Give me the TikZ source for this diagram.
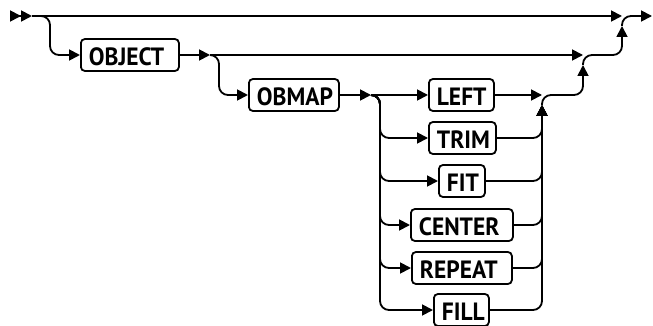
\documentclass[tikz,border=0pt]{standalone}
\usepackage{fontspec}
\setmainfont{PT Sans}[FakeStretch=0.94]
\usetikzlibrary{arrows.meta,positioning}

\begin{document}
\begin{tikzpicture}[x=1pt, y=-1pt, line width=1.8pt,
    kw/.style={draw, rounded corners=4pt, minimum height=32pt, inner xsep=8pt, inner ysep=0pt,
      text height=21pt, text depth=0pt, align=left, anchor=west,
      font=\fontsize{25}{25}\selectfont\bfseries},
    tip/.style={-{Triangle[length=11pt,width=11pt]}},
    dbl/.style={-{Triangle[length=11pt,width=11pt]Triangle[length=11pt,width=11pt]}},
    track/.style={rounded corners=9pt}]
  \useasboundingbox (0,0) rectangle (653,326);
  % keyword boxes
  \node[kw, text width=82pt] (obj) at (80,55) {OBJECT};
  \node[kw, text width=74pt] (obmap) at (248,95) {OBMAP};
  \node[kw, text width=49pt] (kleft) at (428,95) {LEFT};
  \node[kw, text width=51pt] (ktrim) at (428,138) {TRIM};
  \node[kw, text width=30pt] (kfit) at (438,181) {FIT};
  \node[kw, text width=86pt] (kcenter) at (410,225) {CENTER};
  \node[kw, text width=84pt] (krepeat) at (411,268) {REPEAT};
  \node[kw, text width=39pt] (kfill) at (433,310) {FILL};
  % split and join points
  \coordinate (in) at (10,16);
  \coordinate (s1) at (32,16);
  \coordinate (v1) at (50,55);
  \coordinate (s2) at (210,55);
  \coordinate (v2) at (219,95);
  \coordinate (s3) at (371,95);
  \coordinate (v3) at (380,95);
  \coordinate (j3) at (542,95);
  \coordinate (u3) at (542,105);
  \coordinate (r2) at (583,95);
  \coordinate (j2) at (583,55);
  \coordinate (u2) at (583,65);
  \coordinate (r1) at (622,55);
  \coordinate (j1) at (622,16);
  \coordinate (u1) at (622,26);
  \coordinate (out) at (652,16);
  % main line
  \draw[dbl] (in) -- (s1);
  \draw[tip] (s1) -- (j1);
  \draw[tip, track] (s1) -| (v1) -- (obj.west);
  % OBJECT row
  \draw[tip] (obj.east) -- (s2);
  \draw[tip] (s2) -- (j2);
  \draw[tip, track] (s2) -| (v2) -- (obmap.west);
  % OBMAP choices
  \draw[tip] (obmap.east) -- (s3);
  \draw[tip] (s3) -- (kleft.west);
  \draw[tip] (kleft.east) -- (j3);
  \foreach \b in {ktrim,kfit,kcenter,krepeat,kfill}{
    \draw[tip, track] (s3) -| (v3 |- \b.west) -- (\b.west);
    \draw[tip, track] (\b.east) -| (u3);
  }
  % joins back to the main line
  \draw[tip, track] (u3) |- (r2) -- (u2);
  \draw[tip, track] (u2) |- (r1) -- (u1);
  \draw[tip, track] (u1) |- (out);
\end{tikzpicture}
\end{document}
